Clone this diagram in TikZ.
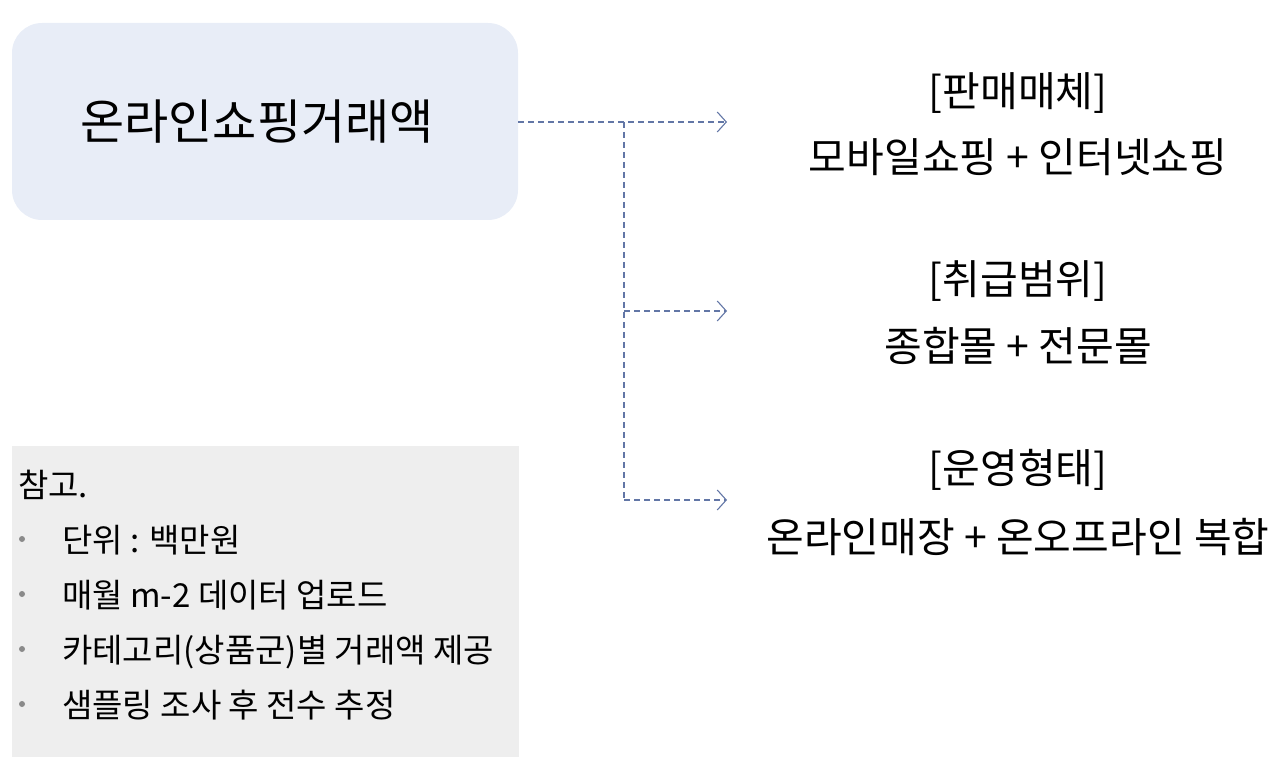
\documentclass[tikz,border=0pt]{standalone}
\usepackage{fontspec}
\setmainfont{Noto Sans CJK KR}
\usetikzlibrary{arrows.meta}
\definecolor{boxblue}{HTML}{E8EDF7}
\definecolor{boxgray}{HTML}{EEEEEE}
\definecolor{linkblue}{HTML}{6276A6}
\definecolor{bulletgray}{HTML}{8A8A8A}
\tikzset{
  link/.style={draw=linkblue, line width=1.2pt, dash pattern=on 6pt off 4pt},
  linkarrow/.style={link, -{Straight Barb[length=9pt,width=20pt,line width=1.1pt]}},
  head/.style={font=\fontsize{41}{46}\selectfont, inner sep=0pt, anchor=base},
  item/.style={font=\fontsize{33}{38}\selectfont, inner sep=0pt, anchor=base west},
  bul/.style={circle, fill=bulletgray, inner sep=0pt, minimum size=6pt},
}
\begin{document}
\begin{tikzpicture}[x=1pt,y=-1pt]
\useasboundingbox (0,0) rectangle (1280,759);
% main box
\node[fill=boxblue, rounded corners=30pt, minimum width=506pt, minimum height=197pt, inner sep=0pt] (main) at (265,121.5) {};
\node[font=\fontsize{48}{54}\selectfont, inner sep=0pt] (title) at (257,121.5) {온라인쇼핑거래액};
% note box
\node[fill=boxgray, minimum width=507pt, minimum height=311pt, inner sep=0pt, anchor=north west] (note) at (12,446) {};
\node[item] (n0) at (18,497) {참고.};
\node[item] (n1) at (62,552) {단위 : 백만원};
\node[item] (n2) at (62,607) {매월 m-2 데이터 업로드};
\node[item] (n3) at (62,662) {카테고리(상품군)별 거래액 제공};
\node[item] (n4) at (62,717) {샘플링 조사 후 전수 추정};
\node[bul] (b1) at (22,539) {};
\node[bul] (b2) at (22,594) {};
\node[bul] (b3) at (22,649) {};
\node[bul] (b4) at (22,704) {};
% right texts
\node[head] (h1) at (1018,107) {[판매매체]};
\node[head] (t1) at (1018,173) {모바일쇼핑 + 인터넷쇼핑};
\node[head] (h2) at (1018,295) {[취급범위]};
\node[head] (t2) at (1018,361) {종합몰 + 전문몰};
\node[head] (h3) at (1018,483) {[운영형태]};
\node[head] (t3) at (1018,552) {온라인매장 + 온오프라인 복합};
% connectors
\coordinate (j) at (624,122);
\coordinate (a1) at (727,122);
\coordinate (a2) at (727,311);
\coordinate (a3) at (727,500);
\draw[linkarrow] (main.east |- j) -- (a1);
\draw[link] (j) -- (624,500);
\draw[linkarrow] (624,311) -- (a2);
\draw[linkarrow] (624,500) -- (a3);
\end{tikzpicture}
\end{document}
